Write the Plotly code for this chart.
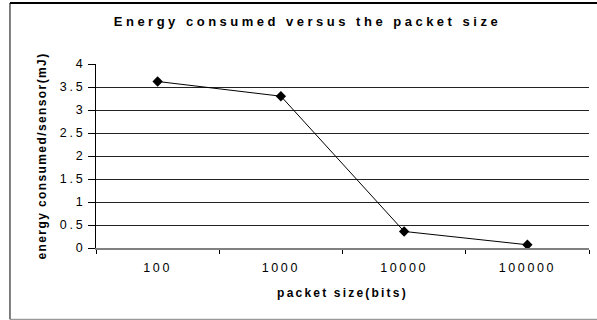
import plotly.graph_objects as go

# Energy consumed per sensor for each packet size
packet_sizes = ["100", "1000", "10000", "100000"]
energy_mj = [3.62, 3.30, 0.36, 0.07]

y_ticks = [0, 0.5, 1, 1.5, 2, 2.5, 3, 3.5, 4]
grid_ticks = [0.5, 1, 1.5, 2, 2.5, 3, 3.5]

FONT = "Arial, 'Liberation Sans', sans-serif"

fig = go.Figure()
fig.add_trace(go.Scatter(
    x=packet_sizes,
    y=energy_mj,
    mode="lines+markers",
    line=dict(color="black", width=1),
    marker=dict(symbol="diamond", size=8, color="black"),
    showlegend=False,
))
# invisible companion trace so the grid axis is active
fig.add_trace(go.Scatter(
    x=packet_sizes, y=energy_mj, yaxis="y2",
    mode="markers", marker=dict(opacity=0), showlegend=False, hoverinfo="skip",
))

fig.update_layout(
    width=597,
    height=320,
    margin=dict(l=96, r=8, t=64, b=72),
    paper_bgcolor="white",
    plot_bgcolor="white",
    font=dict(family=FONT, color="black", size=12),
    title=dict(
        text="<b>Energy consumed versus the packet size</b>",
        x=0.515, xanchor="center", y=0.932, yanchor="middle",
        font=dict(size=13, color="black"),
    ),
    xaxis=dict(
        type="category",
        range=[-0.5, 3.5],
        tickson="boundaries",
        ticks="outside",
        ticklen=4,
        tickcolor="black",
        ticklabelstandoff=7,
        showline=True,
        linecolor="#808080",
        linewidth=2,
        showgrid=False,
        tickfont=dict(size=12.5, color="black"),
        title=dict(text="<b>packet size(bits)</b>", font=dict(size=12), standoff=15),
    ),
    yaxis=dict(
        range=[0, 4],
        tickvals=y_ticks,
        ticktext=[f"{v:g}" for v in y_ticks],
        ticks="outside",
        ticklen=7,
        tickcolor="black",
        showline=True,
        linecolor="black",
        linewidth=1,
        showgrid=False,
        zeroline=False,
        tickfont=dict(size=12.5, color="black"),
        title=dict(text="<b>energy consumed/sensor(mJ)</b>", font=dict(size=12), standoff=18),
    ),
    yaxis2=dict(
        overlaying="y",
        range=[0, 4],
        tickvals=grid_ticks,
        showticklabels=False,
        showgrid=True,
        gridcolor="#222222",
        gridwidth=1,
        zeroline=False,
        showline=False,
    ),
)

# outer frame around the chart
fig.add_shape(type="line", xref="paper", yref="paper",
              x0=-0.1745, x1=1.2, y0=1.332, y1=1.332,
              line=dict(color="black", width=2))
fig.add_shape(type="line", xref="paper", yref="paper",
              x0=-0.1745, x1=-0.1745, y0=1.332, y1=-0.3875,
              line=dict(color="black", width=1))
fig.add_shape(type="line", xref="paper", yref="paper",
              x0=-0.1745, x1=1.2, y0=-0.3875, y1=-0.3875,
              line=dict(color="#808080", width=1))

# widen the character spacing of the chart texts
spacing_js = """
var gd = document.querySelector('.js-plotly-plot');
function spread(sel, px) {
  gd.querySelectorAll(sel).forEach(function(t){ t.style.letterSpacing = px; });
}
spread('.gtitle', '3.5px');
spread('.xtitle', '2.2px');
spread('.ytitle', '1.4px');
spread('.xtick text', '2.6px');
spread('.ytick text', '2.8px');
"""

fig.write_html("out.html", post_script=spacing_js, config={"displayModeBar": False})
